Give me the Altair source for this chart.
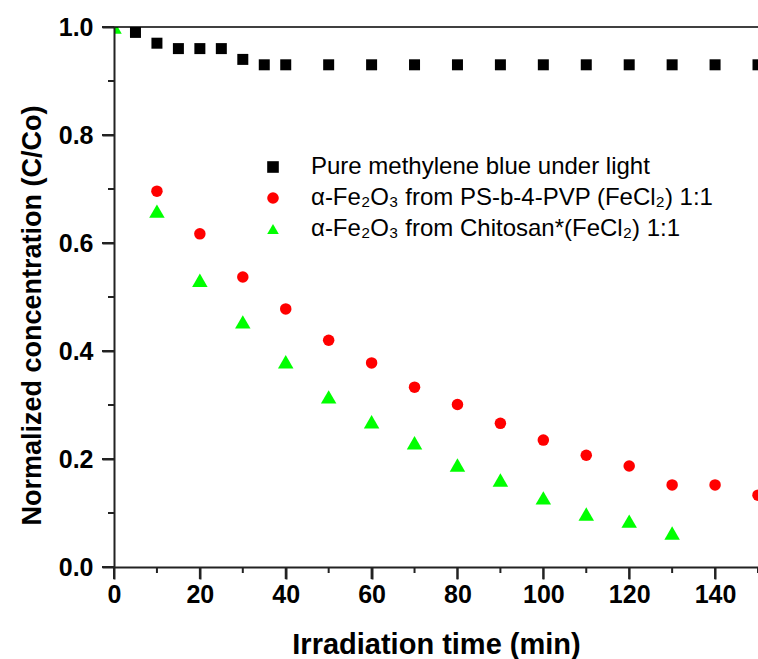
import altair as alt
import pandas as pd

# ---- data ----
series_names = [
    "Pure methylene blue under light",
    "α-Fe₂O₃ from PS-b-4-PVP (FeCl₂) 1:1",
    "α-Fe₂O₃ from Chitosan*(FeCl₂) 1:1",
]
time_mb = [5, 10, 15, 20, 25, 30, 35, 40, 50, 60, 70, 80, 90, 100, 110, 120, 130, 140, 150]
conc_mb = [0.99, 0.97, 0.96, 0.96, 0.96, 0.94, 0.93, 0.93, 0.93, 0.93, 0.93, 0.93, 0.93,
           0.93, 0.93, 0.93, 0.93, 0.93, 0.93]
time_ps = [10, 20, 30, 40, 50, 60, 70, 80, 90, 100, 110, 120, 130, 140, 150]
conc_ps = [0.696, 0.617, 0.537, 0.478, 0.420, 0.378, 0.333, 0.301, 0.266, 0.235, 0.207,
           0.187, 0.152, 0.152, 0.133]
time_ch = [0, 10, 20, 30, 40, 50, 60, 70, 80, 90, 100, 110, 120, 130]
conc_ch = [1.0, 0.659, 0.531, 0.454, 0.380, 0.315, 0.269, 0.230, 0.189, 0.161, 0.128,
           0.098, 0.085, 0.063]

x_major = [0, 20, 40, 60, 80, 100, 120, 140]
x_minor = [10, 30, 50, 70, 90, 110, 130, 150]
y_major = [0.0, 0.2, 0.4, 0.6, 0.8, 1.0]
y_minor = [0.1, 0.3, 0.5, 0.7, 0.9]
y_top = [1.0]

colors = ["#000000", "#ff0000", "#00ff00"]
shapes = ["square", "circle", "triangle-up"]
marker_sizes = [121, 132, 240]

rows = []
for i, (name, ts, cs) in enumerate(zip(series_names, [time_mb, time_ps, time_ch],
                                        [conc_mb, conc_ps, conc_ch])):
    for t, c in zip(ts, cs):
        rows.append({"time": t, "conc": c, "series": name, "order": i,
                     "msize": marker_sizes[i]})
df = pd.DataFrame(rows)

FONT = "Liberation Sans"
AXIS_COL = "#222222"
PLOT_W, PLOT_H = 644, 540

xs = alt.Scale(domain=[0, 150], nice=False, zero=False)
ys = alt.Scale(domain=[0, 1], nice=False)

x_axis = alt.Axis(
    values=x_major, ticks=True, tickSize=12, tickColor=AXIS_COL, tickWidth=2,
    labelOverlap=False, labelFlush=False, zindex=1,
    labelPadding=3, grid=False, title="Irradiation time (min)",
    titleFontSize=29, titleY=86, titleBaseline="alphabetic", orient="bottom",
)
y_axis = alt.Axis(
    values=y_major, format=".1f", ticks=True, tickSize=12, tickColor=AXIS_COL, tickWidth=2,
    labelOverlap=False, labelFlush=False, zindex=1,
    labelPadding=9, grid=False, title="Normalized concentration (C/Co)",
    titleFontSize=27, titleX=-74, titleY=288, titleAlign="center",
    titleBaseline="alphabetic", titleAngle=270, orient="left",
)

points = alt.Chart(df).mark_point(filled=True, opacity=1, strokeWidth=0, clip=True).encode(
    x=alt.X("time:Q", scale=xs, axis=x_axis),
    y=alt.Y("conc:Q", scale=ys, axis=y_axis),
    color=alt.Color("series:N", scale=alt.Scale(domain=series_names, range=colors),
                    legend=alt.Legend(
                        title=None, orient="none", legendX=147, legendY=128,
                        labelFont=FONT, labelFontSize=24, labelColor="#000000",
                        labelLimit=0, rowPadding=7, labelOffset=26, padding=0,
                        symbolSize=135, symbolStrokeWidth=0)),
    shape=alt.Shape("series:N", scale=alt.Scale(domain=series_names, range=shapes), legend=None),
    size=alt.Size("msize:Q", scale=None, legend=None),
    order=alt.Order("order:Q"),
)

# tick marks, positioned by the same (shared) scales from the tick-value arrays
def x_ticks(vals, length):
    return alt.Chart(pd.DataFrame({"v": vals})).mark_rule(
        color=AXIS_COL, strokeWidth=2).encode(
        x=alt.X("v:Q", scale=xs),
        y=alt.value(PLOT_H), y2=alt.value(PLOT_H + length))

def y_ticks(vals, length):
    return alt.Chart(pd.DataFrame({"v": vals})).mark_rule(
        color=AXIS_COL, strokeWidth=2).encode(
        y=alt.Y("v:Q", scale=ys),
        x=alt.value(0), x2=alt.value(-length))

# top frame line at y = 1.0
frame_top = alt.Chart(pd.DataFrame({"v": y_top})).mark_rule(
    color="#000000", strokeWidth=1.5).encode(
    y=alt.Y("v:Q", scale=ys),
    x=alt.value(-12), x2=alt.value(PLOT_W))

chart = alt.layer(
    points, frame_top,
    x_ticks(x_major, 12), x_ticks(x_minor, 6),
    y_ticks(y_major, 12), y_ticks(y_minor, 6),
).properties(
    width=PLOT_W,
    height=PLOT_H,
    autosize=alt.AutoSizeParams(type="none"),
    padding={"left": 114, "top": 27, "right": 0, "bottom": 92},
).configure_view(stroke=None).configure_axis(
    labelFont=FONT, labelFontSize=25, labelFontWeight="bold", labelColor="#000000",
    titleFont=FONT, titleFontWeight="bold", titleColor="#000000",
    domainColor=AXIS_COL, domainWidth=2,
)

chart.save("out.html", embed_options={"renderer": "svg", "actions": False})
